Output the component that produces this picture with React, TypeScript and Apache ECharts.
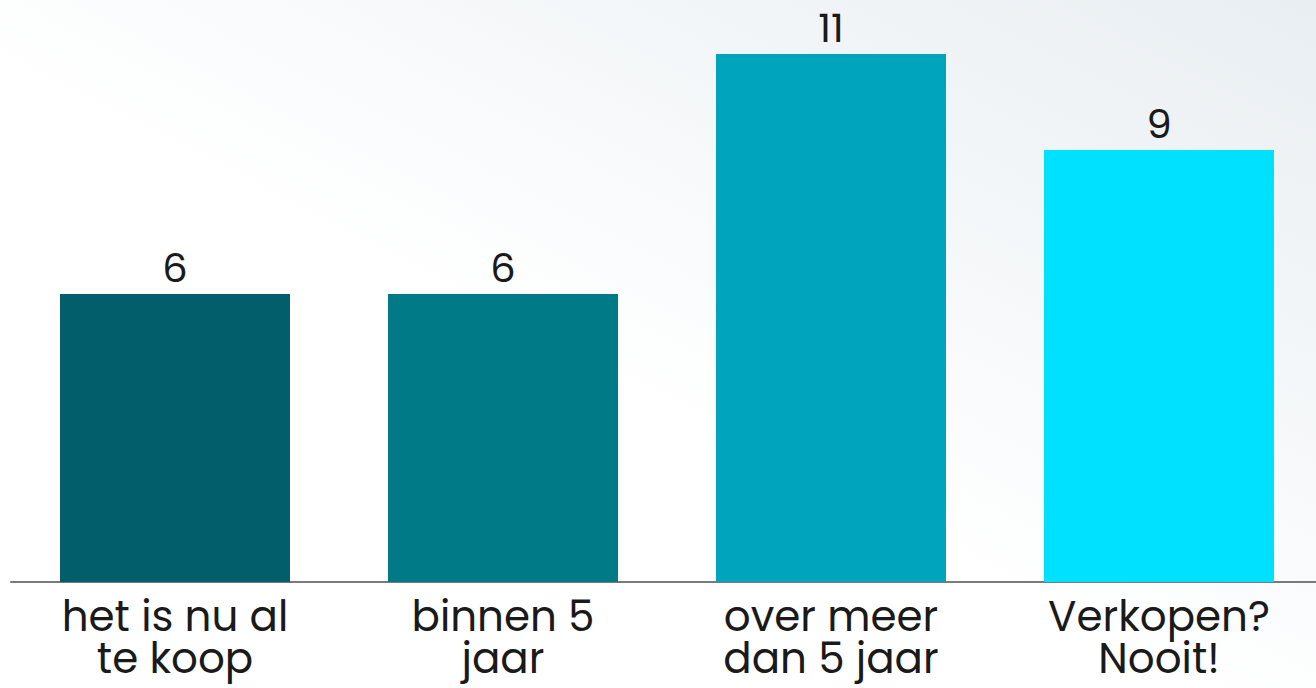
import React, { useEffect, useRef } from "react";
import * as echarts from "echarts";

const categories = ["het is nu al\nte koop", "binnen 5\njaar", "over meer\ndan 5 jaar", "Verkopen?\nNooit!"];
const values = [6, 6, 11, 9];
const barColors = ["#035e6c", "#017a88", "#00a5bd", "#00e1ff"];

export default function App() {
  const ref = useRef<HTMLDivElement>(null);
  useEffect(() => {
    document.body.style.margin = "0";
    const chart = echarts.init(ref.current!, null, { renderer: "svg" });
    const font = "Poppins, 'Open Sans', sans-serif";
    chart.setOption({
      animation: false,
      backgroundColor: {
        type: "linear",
        x: 0,
        y: 1,
        x2: 1,
        y2: 0,
        colorStops: [
          { offset: 0, color: "#ffffff" },
          { offset: 0.45, color: "#ffffff" },
          { offset: 1, color: "#e8eef2" },
        ],
      },
      grid: { left: 11, right: 7, top: 6, bottom: 106, containLabel: false },
      xAxis: {
        type: "category",
        data: categories,
        axisLine: { show: true, lineStyle: { color: "#7a7a7a", width: 2 } },
        axisTick: { show: false },
        axisLabel: {
          interval: 0,
          margin: 13,
          fontSize: 42,
          lineHeight: 42,
          color: "#1a1a1a",
          fontFamily: font,
        },
      },
      yAxis: {
        type: "value",
        min: 0,
        max: 12,
        show: false,
        splitLine: { show: false },
      },
      series: [
        {
          type: "bar",
          barWidth: 230,
          data: values.map((v, i) => ({ value: v, itemStyle: { color: barColors[i] } })),
          label: {
            show: true,
            position: "top",
            distance: 6,
            fontSize: 40,
            color: "#1a1a1a",
            fontFamily: font,
          },
        },
      ],
    });
    return () => chart.dispose();
  }, []);
  return (
    <div style={{ width: 1316, height: 688, overflow: "hidden", position: "relative" }}>
      <div ref={ref} style={{ width: 1330, height: 688 }} />
    </div>
  );
}
